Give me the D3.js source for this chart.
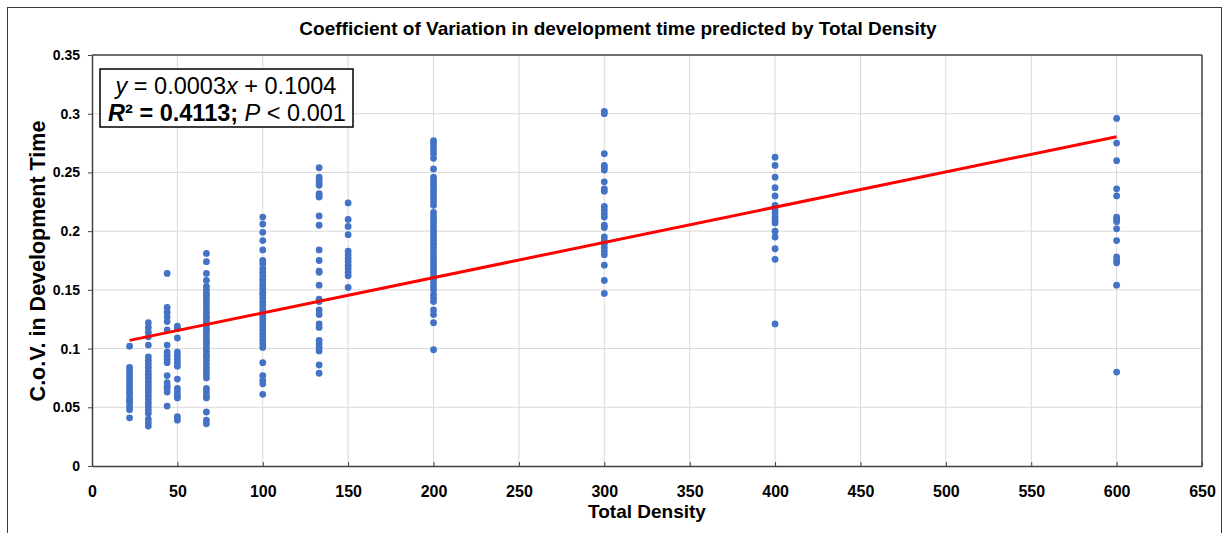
<!DOCTYPE html>
<html><head><meta charset="utf-8">
<script src="https://cdn.jsdelivr.net/npm/d3@7"></script>
<style>body{margin:0;background:#fff;} svg{display:block;font-family:"Liberation Sans",Arial,sans-serif;}</style>
</head><body>
<svg id="chart" width="1228" height="533"></svg>
<script>
// ---- data ----
const densities = [22, 33, 44, 50, 67, 100, 133, 150, 200, 300, 400, 600];
const cov22 = [0.102,0.084,0.081,0.078,0.075,0.072,0.069,0.066,0.063,0.061,0.058,0.056,0.054,0.051,0.048,0.041];
const cov33 = [0.122,0.118,0.114,0.110,0.103,0.093,0.090,0.087,0.084,0.081,0.078,0.075,0.072,0.069,0.066,0.063,0.060,0.057,0.054,0.051,0.048,0.045,0.040,0.037,0.034];
const cov44 = [0.164,0.135,0.131,0.127,0.123,0.116,0.103,0.097,0.094,0.091,0.088,0.077,0.071,0.068,0.066,0.063,0.051];
const cov50 = [0.119,0.117,0.109,0.097,0.094,0.091,0.088,0.085,0.074,0.066,0.063,0.060,0.058,0.042,0.039];
const cov67 = [0.181,0.174,0.164,0.158,0.153,0.150,0.147,0.145,0.142,0.139,0.137,0.134,0.131,0.128,0.126,0.123,0.120,0.117,0.115,0.112,0.109,0.106,0.104,0.101,0.098,0.095,0.093,0.090,0.087,0.084,0.081,0.078,0.075,0.066,0.063,0.060,0.058,0.046,0.039,0.036];
const cov100 = [0.212,0.206,0.199,0.192,0.184,0.175,0.172,0.168,0.165,0.162,0.159,0.157,0.154,0.151,0.148,0.146,0.143,0.140,0.137,0.134,0.131,0.128,0.125,0.122,0.119,0.116,0.113,0.110,0.107,0.104,0.101,0.088,0.077,0.073,0.070,0.061];
const cov133 = [0.254,0.246,0.244,0.241,0.239,0.232,0.230,0.229,0.213,0.205,0.184,0.175,0.166,0.165,0.154,0.142,0.140,0.133,0.129,0.121,0.118,0.107,0.104,0.101,0.098,0.086,0.079];
const cov150 = [0.224,0.210,0.204,0.197,0.183,0.180,0.177,0.174,0.171,0.168,0.165,0.162,0.152];
const cov200 = [0.277,0.275,0.272,0.269,0.266,0.262,0.253,0.246,0.243,0.240,0.237,0.234,0.231,0.228,0.225,0.222,0.216,0.213,0.210,0.207,0.204,0.201,0.198,0.195,0.192,0.189,0.186,0.183,0.180,0.177,0.174,0.171,0.168,0.165,0.162,0.159,0.156,0.153,0.150,0.146,0.143,0.140,0.133,0.129,0.122,0.099];
const cov300 = [0.302,0.300,0.266,0.256,0.254,0.252,0.242,0.236,0.234,0.221,0.218,0.215,0.212,0.205,0.203,0.195,0.192,0.189,0.186,0.183,0.180,0.171,0.158,0.147];
const cov400 = [0.263,0.256,0.246,0.237,0.230,0.222,0.218,0.215,0.212,0.209,0.207,0.200,0.195,0.185,0.176,0.121];
const cov600 = [0.296,0.275,0.260,0.236,0.230,0.212,0.210,0.208,0.202,0.192,0.178,0.175,0.173,0.154,0.080];
const covSeries = [cov22,cov33,cov44,cov50,cov67,cov100,cov133,cov150,cov200,cov300,cov400,cov600];
const xTicks = [0,50,100,150,200,250,300,350,400,450,500,550,600,650];
const yTicks = [0,0.05,0.1,0.15,0.2,0.25,0.3,0.35];
const slope = 0.0003, intercept = 0.1004;
const fitRange = [22, 600];

// ---- layout ----
const svg = d3.select("#chart");
const L = 92, R = 1202, T = 55, B = 466;
const x = d3.scaleLinear().domain([0,650]).range([L,R]);
const y = d3.scaleLinear().domain([0,0.35]).range([B,T]);

// outer border
svg.append("rect").attr("x",7.5).attr("y",7.5).attr("width",1214).attr("height",540)
  .attr("fill","none").attr("stroke","#3a3a3a").attr("stroke-width",1);

// grid
svg.append("g").selectAll("line").data(xTicks.slice(1,-1)).join("line")
  .attr("x1",d=>x(d)).attr("x2",d=>x(d)).attr("y1",T).attr("y2",B)
  .attr("stroke","#d9d9d9").attr("stroke-width",1);
svg.append("g").selectAll("line").data(yTicks.slice(1,-1)).join("line")
  .attr("y1",d=>y(d)).attr("y2",d=>y(d)).attr("x1",L).attr("x2",R)
  .attr("stroke","#d9d9d9").attr("stroke-width",1);

// axes
const xAxis = svg.append("g").attr("transform",`translate(0,${B})`)
  .call(d3.axisBottom(x).tickValues(xTicks).tickFormat(d3.format("d")).tickSizeInner(-4).tickSizeOuter(0).tickPadding(20));
const yAxis = svg.append("g").attr("transform",`translate(${L},0)`)
  .call(d3.axisLeft(y).tickValues(yTicks).tickFormat(d=>d===0?"0":String(+d.toFixed(2))).tickSizeInner(4).tickSizeOuter(0).tickPadding(8));
[xAxis,yAxis].forEach(a=>{
  a.select(".domain").attr("stroke","#404040").attr("stroke-width",1.5);
  a.selectAll(".tick line").attr("stroke","#404040");
  a.selectAll("text").attr("font-weight","bold").attr("fill","#000")
   .attr("font-family","'Liberation Sans',Arial,sans-serif");
});
xAxis.selectAll("text").attr("font-size",16);
yAxis.selectAll("text").attr("font-size",14);
// frame top/right
svg.append("line").attr("x1",L).attr("x2",R).attr("y1",T).attr("y2",T).attr("stroke","#404040").attr("stroke-width",1.5);
svg.append("line").attr("x1",R).attr("x2",R).attr("y1",T).attr("y2",B).attr("stroke","#404040").attr("stroke-width",1.5);

// points
const pts = [];
densities.forEach((dx,i)=>covSeries[i].forEach(v=>pts.push([dx,v])));
svg.append("g").selectAll("circle").data(pts).join("circle")
  .attr("cx",d=>x(d[0])).attr("cy",d=>y(d[1])).attr("r",3.4).attr("fill","#4472C4");

// regression line
svg.append("line")
  .attr("x1",x(fitRange[0])).attr("y1",y(slope*fitRange[0]+intercept))
  .attr("x2",x(fitRange[1])).attr("y2",y(slope*fitRange[1]+intercept))
  .attr("stroke","#ff0000").attr("stroke-width",3);

// title
svg.append("text").attr("x",618).attr("y",35).attr("text-anchor","middle")
  .attr("font-size",19).attr("font-weight","bold").text("Coefficient of Variation in development time predicted by Total Density");

// axis titles
svg.append("text").attr("x",647).attr("y",518).attr("text-anchor","middle")
  .attr("font-size",19).attr("font-weight","bold").text("Total Density");
svg.append("text").attr("transform","translate(45,261) rotate(-90)").attr("text-anchor","middle")
  .attr("font-size",21.5).attr("font-weight","bold").text("C.o.V. in Development Time");

// annotation box
svg.append("rect").attr("x",100).attr("y",69).attr("width",253).attr("height",58)
  .attr("fill","#fff").attr("stroke","#000").attr("stroke-width",1.5);
const t1 = svg.append("text").attr("x",226).attr("y",94).attr("text-anchor","middle").attr("font-size",23.5);
t1.append("tspan").attr("font-style","italic").text("y");
t1.append("tspan").text(` = ${slope.toFixed(4)}`);
t1.append("tspan").attr("font-style","italic").text("x");
t1.append("tspan").text(` + ${intercept.toFixed(4)}`);
const t2 = svg.append("text").attr("x",227).attr("y",121).attr("text-anchor","middle").attr("font-size",23.5);
t2.append("tspan").attr("font-style","italic").attr("font-weight","bold").text("R");
t2.append("tspan").attr("font-weight","bold").text("² = 0.4113;");
t2.append("tspan").attr("font-style","italic").text(" P");
t2.append("tspan").text(" < 0.001");
</script>
</body></html>
